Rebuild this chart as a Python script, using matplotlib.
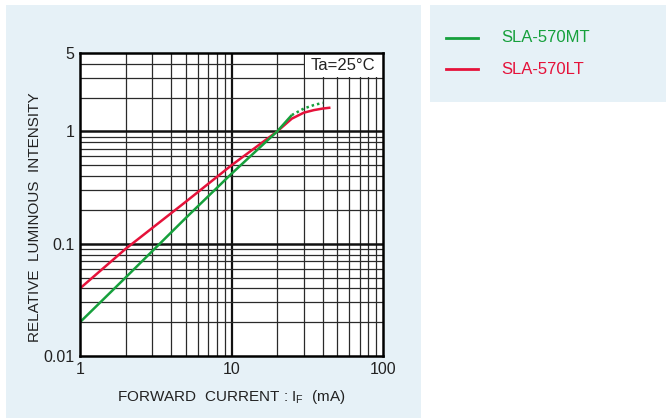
import matplotlib
matplotlib.use("Agg")
import matplotlib.pyplot as plt
from matplotlib.patches import Rectangle
from matplotlib.lines import Line2D

plt.rcParams['font.family'] = ['Liberation Sans', 'DejaVu Sans']
plt.rcParams['mathtext.fontset'] = 'custom'
plt.rcParams['mathtext.rm'] = 'Liberation Sans'

# data
mt_x = [1, 2, 5, 10, 20, 25]
mt_y = [0.02, 0.05, 0.17, 0.42, 1.0, 1.4]
mt_dot_x = [25, 30, 35, 40]
mt_dot_y = [1.4, 1.6, 1.72, 1.8]
lt_x = [1, 2, 5, 10, 20, 25, 30, 35, 40, 45]
lt_y = [0.04, 0.09, 0.237, 0.5, 1.0, 1.3, 1.47, 1.55, 1.6, 1.63]
x_ticks = [1, 10, 100]
x_ticklabels = ['1', '10', '100']
y_ticks = [0.01, 0.1, 1, 5]
y_ticklabels = ['0.01', '0.1', '1', '5']
series_names = ['SLA-570MT', 'SLA-570LT']

GREEN = '#16a03c'
RED = '#e5123a'
BG = '#e6f1f7'

W, H = 666, 419
fig = plt.figure(figsize=(W / 100, H / 100), dpi=100)
fig.patch.set_facecolor('white')

def px(x0, y0, x1, y1):
    return (x0 / W, 1 - y1 / H, (x1 - x0) / W, (y1 - y0) / H)

l, b, w, h = px(6, 5, 421, 418)
fig.patches.append(Rectangle((l, b), w, h, transform=fig.transFigure, facecolor=BG, edgecolor='none', zorder=-10))
l, b, w, h = px(430, 5, 666, 102)
fig.patches.append(Rectangle((l, b), w, h, transform=fig.transFigure, facecolor=BG, edgecolor='none', zorder=-10))

ax = fig.add_axes(px(80, 53, 383, 356))
ax.set_zorder(5)
ax.set_facecolor('white')
ax.set_xscale('log')
ax.set_yscale('log')
ax.set_xlim(1, 100)
ax.set_ylim(0.01, 5)

# grid
for dec in [1, 10]:
    for m in range(2, 10):
        ax.axvline(dec * m, color='#2a2a2a', lw=0.9, zorder=1)
ax.axvline(10, color='#111111', lw=1.6, zorder=1)
for dec in [0.01, 0.1, 1]:
    for m in range(2, 10):
        v = dec * m
        if v < 5:
            ax.axhline(v, color='#2a2a2a', lw=0.9, zorder=1)
for v in [0.1, 1]:
    ax.axhline(v, color='#111111', lw=1.8, zorder=1)

# white label cell (30..100 mA, 3..5)
ax.add_patch(Rectangle((30.4, 3.03), 100 - 30.4, 5 - 3.03, facecolor='white', edgecolor='none', zorder=2))
ax.text(54.8, 3.87, 'Ta=25°C', ha='center', va='center', fontsize=12, color='#222222', zorder=3)

ax.plot(lt_x, lt_y, color=RED, lw=1.8, zorder=4, solid_capstyle='butt')
ax.plot(mt_x, mt_y, color=GREEN, lw=1.8, zorder=5, solid_capstyle='butt')
ax.plot(mt_dot_x, mt_dot_y, color=GREEN, lw=1.8, ls=(0, (1, 1.2)), zorder=5)

for s in ax.spines.values():
    s.set_linewidth(1.8)
    s.set_color('black')
    s.set_zorder(6)

ax.set_xticks(x_ticks)
ax.set_xticklabels(x_ticklabels)
ax.set_yticks(y_ticks)
ax.set_yticklabels(y_ticklabels)
ax.minorticks_off()
ax.tick_params(length=0, labelsize=11.5, colors='#222222', pad=4)

fig.text(35 / W, 1 - 217 / H, 'RELATIVE  LUMINOUS  INTENSITY', rotation=90,
         ha='center', va='center', fontsize=11, color='#222222')
fig.text(231 / W, 1 - 397 / H, r'FORWARD  CURRENT : I$_{\mathregular{F}}$  (mA)',
         ha='center', va='center', fontsize=11, color='#222222')

# legend
for (yy, col, name) in [(38, GREEN, series_names[0]), (69, RED, series_names[1])]:
    fig.lines.append(Line2D([446 / W, 478 / W], [1 - yy / H, 1 - yy / H], transform=fig.transFigure,
                            color=col, lw=2))
    fig.text(501 / W, 1 - yy / H, name, ha='left', va='center', fontsize=12, color=col)

fig.savefig('out.png', dpi=100)
